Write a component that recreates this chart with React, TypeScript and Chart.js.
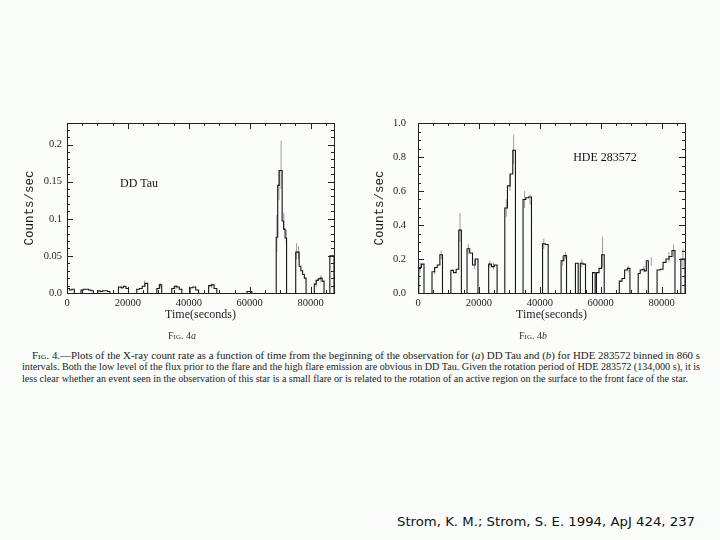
import React, { useEffect, useLayoutEffect, useRef } from "react";
import { Chart, registerables } from "chart.js";
Chart.register(...registerables);

// ---------- shared axis data ----------
const xTickValues = [0, 20000, 40000, 60000, 80000];
const xTickLabels = ["0", "20000", "40000", "60000", "80000"];
const xMax = 87670;

// ---------- DD Tau (Fig. 4a) ----------
const ddYTickValues = [0, 0.05, 0.1, 0.15, 0.2];
const ddYTickLabels = ["0.0", "0.05", "0.1", "0.15", "0.2"];
const ddYMax = 0.229;
const ddSegStart = [0, 4600, 10100, 16900, 22900, 29500, 34400, 40400, 46500, 59100, 68700, 75100, 81200, 86300];
const ddSegEnd = [2400, 8700, 14100, 20200, 26500, 31100, 37700, 43200, 49200, 60700, 72100, 78500, 84400, 87670];
const ddSegValues = [
  [0.006, 0.004, 0.005],
  [0.004, 0.005, 0.005, 0.004, 0.003],
  [0.003, 0.002, 0.003, 0.003, 0.002],
  [0.008, 0.007, 0.009, 0.006],
  [0.005, 0.006, 0.009, 0.013],
  [0.006, 0.011],
  [0.006, 0.009, 0.008, 0.005],
  [0.007, 0.008, 0.004],
  [0.01, 0.011, 0.006],
  [0.002],
  [0.075, 0.145, 0.165, 0.165, 0.097, 0.086, 0.074],
  [0.055, 0.055, 0.036, 0.03, 0.025, 0.02],
  [0.012, 0.017, 0.019, 0.02, 0.016],
  [0.05],
];
const ddErrT = [68900, 69600, 70300, 71200, 72000, 75400, 76000, 81800, 83400, 18000, 25500, 30600, 35800, 47500];
const ddErrLo = [0.055, 0.125, 0.14, 0.085, 0.065, 0.045, 0.045, 0.008, 0.014, 0.005, 0.008, 0.006, 0.005, 0.006];
const ddErrHi = [0.105, 0.165, 0.205, 0.108, 0.085, 0.067, 0.063, 0.018, 0.024, 0.01, 0.017, 0.014, 0.011, 0.013];

// ---------- HDE 283572 (Fig. 4b) ----------
const hdYTickValues = [0, 0.2, 0.4, 0.6, 0.8, 1.0];
const hdYTickLabels = ["0.0", "0.2", "0.4", "0.6", "0.8", "1.0"];
const hdYMax = 1.0;
const hdSegStart = [250, 4600, 10800, 16100, 23200, 28500, 34500, 40900, 47000, 51700, 53300, 57300, 58600, 66100, 72300, 78500, 86300];
const hdSegEnd = [1970, 8040, 14240, 19700, 25970, 32000, 37260, 42740, 48770, 52600, 55000, 58160, 61150, 69590, 75620, 84380, 87670];
const hdSegValues = [
  [0.15, 0.17],
  [0.125, 0.15, 0.165, 0.225],
  [0.133, 0.12, 0.14, 0.37],
  [0.26, 0.235, 0.165, 0.2],
  [0.17, 0.155, 0.165],
  [0.5, 0.63, 0.7, 0.84],
  [0.55, 0.56, 0.565],
  [0.29, 0.285],
  [0.19, 0.22],
  [0.175],
  [0.175, 0.17],
  [0.12],
  [0.12, 0.145, 0.225],
  [0.07, 0.085, 0.135, 0.145],
  [0.115, 0.135, 0.14, 0.13, 0.19],
  [0.135, 0.14, 0.18, 0.2, 0.215, 0.25],
  [0.2],
];
const hdErrT = [700, 5500, 7600, 13800, 16500, 18600, 23600, 24800, 29000, 30200, 31400, 35000, 36800, 41300, 47500, 48400, 53800, 60600, 69000, 74200, 76600, 82400, 83900, 87000];
const hdErrLo = [0.12, 0.11, 0.2, 0.3, 0.23, 0.14, 0.15, 0.14, 0.45, 0.6, 0.76, 0.5, 0.52, 0.26, 0.16, 0.2, 0.15, 0.15, 0.12, 0.12, 0.16, 0.18, 0.21, 0.15];
const hdErrHi = [0.18, 0.15, 0.25, 0.47, 0.29, 0.2, 0.19, 0.18, 0.55, 0.7, 0.93, 0.6, 0.58, 0.32, 0.22, 0.24, 0.2, 0.33, 0.16, 0.16, 0.21, 0.24, 0.285, 0.26];

// ---------- helpers ----------
function buildSteps(starts: number[], ends: number[], values: number[][]) {
  const pts: { x: number; y: number | null }[] = [];
  starts.forEach((s, i) => {
    const vals = values[i];
    const w = (ends[i] - s) / vals.length;
    pts.push({ x: s, y: 0 });
    vals.forEach((v, j) => pts.push({ x: s + j * w, y: v }));
    pts.push({ x: ends[i], y: 0 });
    pts.push({ x: ends[i], y: null });
  });
  return pts;
}

function buildErrors(t: number[], lo: number[], hi: number[]) {
  const pts: { x: number; y: number | null }[] = [];
  t.forEach((x, i) => {
    pts.push({ x, y: lo[i] });
    pts.push({ x, y: hi[i] });
    pts.push({ x, y: null });
  });
  return pts;
}

function range(step: number, max: number) {
  const out: number[] = [];
  for (let k = 0; k * step <= max + 1e-9; k++) out.push(+(k * step).toFixed(6));
  return out;
}

const frameTicks = {
  id: "frameTicks",
  afterDatasetsDraw(chart: any, _args: any, opts: any) {
    const { ctx, chartArea: a, scales } = chart;
    const x = scales.x;
    const y = scales.y;
    ctx.save();
    ctx.strokeStyle = "#222";
    ctx.lineWidth = 1;
    ctx.strokeRect(a.left + 0.5, a.top + 0.5, a.right - a.left, a.bottom - a.top);
    ctx.beginPath();
    const drawX = (vals: number[], len: number) => {
      vals.forEach((v) => {
        const px = Math.round(x.getPixelForValue(v)) + 0.5;
        ctx.moveTo(px, a.bottom);
        ctx.lineTo(px, a.bottom - len);
        ctx.moveTo(px, a.top);
        ctx.lineTo(px, a.top + len);
      });
    };
    const drawY = (vals: number[], len: number) => {
      vals.forEach((v) => {
        const py = Math.round(y.getPixelForValue(v)) + 0.5;
        ctx.moveTo(a.left, py);
        ctx.lineTo(a.left + len, py);
        ctx.moveTo(a.right, py);
        ctx.lineTo(a.right - len, py);
      });
    };
    drawX(opts.xMinor, 3);
    drawX(opts.xMajor, 6);
    drawY(opts.yMinor, 3);
    drawY(opts.yMajor, 6);
    ctx.stroke();
    ctx.restore();
  },
};

type PanelProps = {
  left: number;
  top: number;
  starts: number[];
  ends: number[];
  values: number[][];
  errT: number[];
  errLo: number[];
  errHi: number[];
  yMax: number;
  yTicks: number[];
  yLabels: string[];
  yMinorStep: number;
  yAxisWidth: number;
  yLabelPad: number;
  padRight: number;
};

function Panel(p: PanelProps) {
  const ref = useRef<HTMLCanvasElement>(null);
  useEffect(() => {
    const tickFont = { family: "'Liberation Serif', serif", size: 10.5 };
    const chart = new Chart(ref.current as HTMLCanvasElement, {
      type: "line",
      data: {
        datasets: [
          {
            data: buildSteps(p.starts, p.ends, p.values) as any,
            stepped: "before",
            borderColor: "#151515",
            borderWidth: 1.1,
            pointRadius: 0,
            spanGaps: false,
            fill: false,
          },
          {
            data: buildErrors(p.errT, p.errLo, p.errHi) as any,
            borderColor: "#9c9c9c",
            borderWidth: 1,
            pointRadius: 0,
            spanGaps: false,
            fill: false,
          },
        ],
      },
      options: {
        animation: false,
        responsive: false,
        devicePixelRatio: 1,
        layout: { padding: { left: 0, top: 23, right: p.padRight, bottom: 0 } },
        plugins: {
          legend: { display: false },
          tooltip: { enabled: false },
          frameTicks: {
            xMajor: xTickValues,
            xMinor: range(5000, xMax),
            yMajor: p.yTicks,
            yMinor: range(p.yMinorStep, p.yMax),
          },
        } as any,
        scales: {
          x: {
            type: "linear",
            min: 0,
            max: xMax,
            grid: { display: false, drawTicks: false },
            border: { display: false },
            afterBuildTicks: (s: any) => {
              s.ticks = xTickValues.map((v) => ({ value: v }));
            },
            afterFit: (s: any) => {
              s.height = 47;
            },
            ticks: {
              font: tickFont,
              color: "#1c1c1c",
              padding: 4,
              maxRotation: 0,
              autoSkip: false,
              callback: (_v: any, i: number) => xTickLabels[i],
            },
            title: {
              display: true,
              text: "Time(seconds)",
              font: { family: "'Liberation Serif', serif", size: 12 },
              color: "#1c1c1c",
              padding: { top: 0, bottom: 18 },
            },
          },
          y: {
            type: "linear",
            min: 0,
            max: p.yMax,
            grid: { display: false, drawTicks: false },
            border: { display: false },
            afterBuildTicks: (s: any) => {
              s.ticks = p.yTicks.map((v) => ({ value: v }));
            },
            afterFit: (s: any) => {
              s.width = p.yAxisWidth;
            },
            ticks: {
              font: tickFont,
              color: "#1c1c1c",
              padding: p.yLabelPad,
              autoSkip: false,
              callback: (_v: any, i: number) => p.yLabels[i],
            },
            title: {
              display: true,
              text: "Counts/sec",
              font: { family: "'Liberation Mono', monospace", size: 12.5 },
              color: "#1c1c1c",
              padding: { top: 22, bottom: 0 },
            },
          },
        },
      },
      plugins: [frameTicks as any],
    });
    return () => chart.destroy();
  }, []);
  return (
    <canvas
      ref={ref}
      width={360}
      height={240}
      style={{ position: "absolute", left: p.left, top: p.top, width: 360, height: 240 }}
    />
  );
}

function FitText(props: {
  left: number;
  top: number;
  width: number;
  size: number;
  family: string;
  color?: string;
  children: React.ReactNode;
}) {
  const ref = useRef<HTMLSpanElement>(null);
  useLayoutEffect(() => {
    const el = ref.current;
    if (!el) return;
    const fit = () => {
      el.style.transform = "translateY(-50%)";
      const w = el.getBoundingClientRect().width;
      if (w > 0) el.style.transform = `translateY(-50%) scaleX(${props.width / w})`;
    };
    fit();
    if ((document as any).fonts && (document as any).fonts.ready) {
      (document as any).fonts.ready.then(fit);
    }
  });
  return (
    <span
      ref={ref}
      style={{
        position: "absolute",
        left: props.left,
        top: props.top,
        whiteSpace: "nowrap",
        transformOrigin: "left center",
        fontFamily: props.family,
        fontSize: props.size,
        color: props.color || "#1a1a1a",
        lineHeight: 1,
      }}
    >
      {props.children}
    </span>
  );
}

const serif = "'Liberation Serif', serif";
const sc: React.CSSProperties = { fontVariant: "small-caps" };

export default function App() {
  return (
    <div
      style={{
        position: "fixed",
        left: 0,
        top: 0,
        width: 720,
        height: 540,
        background: "#fbfdfb",
        overflow: "hidden",
      }}
    >
      <Panel
        left={0}
        top={100}
        starts={ddSegStart}
        ends={ddSegEnd}
        values={ddSegValues}
        errT={ddErrT}
        errLo={ddErrLo}
        errHi={ddErrHi}
        yMax={ddYMax}
        yTicks={ddYTickValues}
        yLabels={ddYTickLabels}
        yMinorStep={0.01}
        yAxisWidth={67}
        yLabelPad={5}
        padRight={26}
      />
      <Panel
        left={350}
        top={100}
        starts={hdSegStart}
        ends={hdSegEnd}
        values={hdSegValues}
        errT={hdErrT}
        errLo={hdErrLo}
        errHi={hdErrHi}
        yMax={hdYMax}
        yTicks={hdYTickValues}
        yLabels={hdYTickLabels}
        yMinorStep={0.05}
        yAxisWidth={68}
        yLabelPad={12}
        padRight={25}
      />
      <div
        style={{
          position: "absolute",
          left: 139,
          top: 183,
          transform: "translate(-50%,-50%)",
          fontFamily: serif,
          fontSize: 12,
          color: "#111",
          whiteSpace: "nowrap",
        }}
      >
        DD Tau
      </div>
      <div
        style={{
          position: "absolute",
          left: 605,
          top: 157,
          transform: "translate(-50%,-50%)",
          fontFamily: serif,
          fontSize: 12,
          color: "#111",
          whiteSpace: "nowrap",
        }}
      >
        HDE 283572
      </div>
      <div
        style={{
          position: "absolute",
          left: 182,
          top: 335,
          transform: "translate(-50%,-50%)",
          fontFamily: serif,
          fontSize: 10,
          color: "#333",
          whiteSpace: "nowrap",
        }}
      >
        <span style={sc}>Fig.</span> 4<i>a</i>
      </div>
      <div
        style={{
          position: "absolute",
          left: 533,
          top: 335,
          transform: "translate(-50%,-50%)",
          fontFamily: serif,
          fontSize: 10,
          color: "#333",
          whiteSpace: "nowrap",
        }}
      >
        <span style={sc}>Fig.</span> 4<i>b</i>
      </div>
      <FitText left={32} top={356.5} width={668} size={9.5} family={serif}>
        <span style={sc}>Fig.</span> 4.—Plots of the X-ray count rate as a function of time from the beginning of the
        observation for (<i>a</i>) DD Tau and (<i>b</i>) for HDE 283572 binned in 860 s
      </FitText>
      <FitText left={22} top={368} width={678} size={9.5} family={serif}>
        intervals. Both the low level of the flux prior to the flare and the high flare emission are obvious in DD Tau.
        Given the rotation period of HDE 283572 (134,000 s), it is
      </FitText>
      <FitText left={22} top={379.5} width={666} size={9.5} family={serif}>
        less clear whether an event seen in the observation of this star is a small flare or is related to the rotation
        of an active region on the surface to the front face of the star.
      </FitText>
      <FitText left={397} top={521} width={298} size={13} family={"'DejaVu Sans', sans-serif"} color="#111">
        Strom, K. M.; Strom, S. E. 1994, ApJ 424, 237
      </FitText>
    </div>
  );
}
